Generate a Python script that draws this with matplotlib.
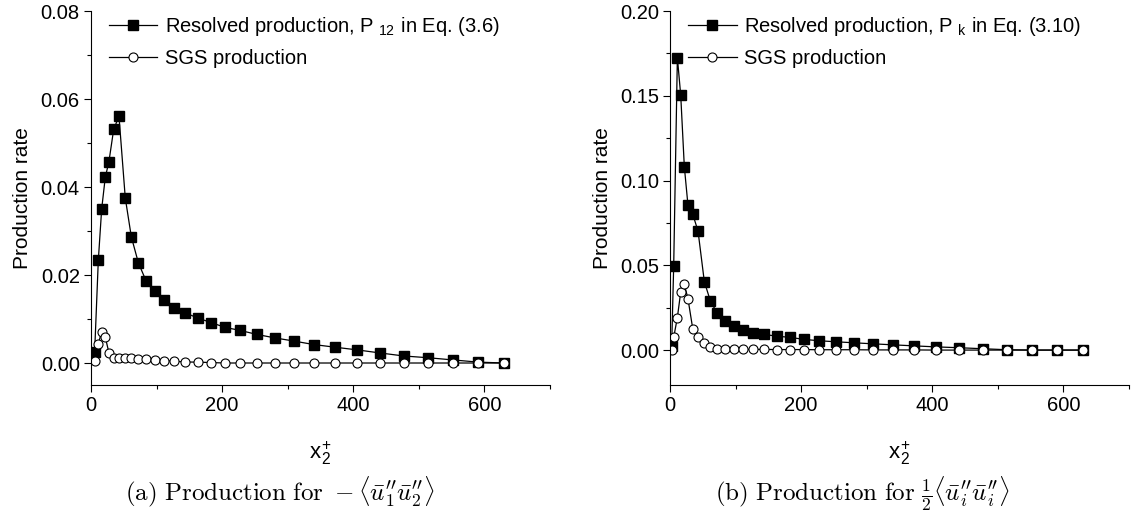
import matplotlib
matplotlib.use('Agg')
import matplotlib.pyplot as plt
from matplotlib.ticker import MultipleLocator, FormatStrFormatter

plt.rcParams['font.family'] = ['Liberation Sans', 'DejaVu Sans']
plt.rcParams['mathtext.fontset'] = 'cm'

# (a) production for -<u1'' u2''>
x_a = [5.6, 11.2, 16.3, 21.8, 27.4, 34.6, 42.7, 52.3, 61.5, 72.2, 83.9, 97.1,
       111.3, 127, 143.8, 163.2, 183, 204.4, 227.7, 252.7, 280.6, 309, 339.6,
       371.6, 405, 440, 476.8, 514, 552, 590.7, 630]
res_a = [0.0026, 0.0234, 0.0350, 0.0422, 0.0458, 0.0531, 0.0561, 0.0375, 0.0287,
         0.0228, 0.0187, 0.0164, 0.0144, 0.0126, 0.0114, 0.0102, 0.0092, 0.0081,
         0.0074, 0.0065, 0.0057, 0.0050, 0.0042, 0.0036, 0.0030, 0.0023, 0.0016,
         0.0012, 0.0007, 0.0002, 0.0]
sgs_a = [0.0005, 0.0044, 0.0071, 0.0059, 0.0023, 0.0011, 0.0011, 0.0011, 0.0011,
         0.0009, 0.00085, 0.0007, 0.00055, 0.0004, 0.00023, 0.0002, 0.0001, 0.0,
         0.0, 0.0, 0.0, 0.0, 0.0, 0.0, 0.0, 0.0, 0.0, 0.0, 0.0, 0.0, 0.0]

# (b) production for 1/2 <ui'' ui''>
x_b = [2.5, 5.6, 11.2, 16.3, 21.8, 27.4, 34.6, 42.7, 52.3, 61.5, 72.2, 83.9, 97.1,
       111.3, 127, 143.8, 163.2, 183, 204.4, 227.7, 252.7, 280.6, 309, 339.6,
       371.6, 405, 440, 476.8, 514, 552, 590.7, 630]
res_b = [0.0024, 0.0498, 0.1725, 0.1504, 0.1082, 0.0853, 0.0802, 0.0702, 0.0404,
         0.0290, 0.0216, 0.0171, 0.0141, 0.0118, 0.0102, 0.0092, 0.0082, 0.0075,
         0.0063, 0.0055, 0.0049, 0.0043, 0.0037, 0.0031, 0.0025, 0.0019, 0.0014,
         0.0008, 0.0002, 0.0, 0.0, 0.0]
sgs_b = [0.0, 0.0075, 0.0192, 0.0343, 0.0388, 0.0302, 0.0127, 0.0076, 0.0039,
         0.0016, 0.0005, 0.0004, 0.0004, 0.0004, 0.0004, 0.0004, 0.0003, 0.0003,
         0.0003, 0.0002, 0.0002, 0.0002, 0.0001, 0.0001, 0.0001, 0.0, 0.0, 0.0,
         0.0, 0.0, 0.0, 0.0]

labels_a = [r'Resolved production, P$_{\mathregular{\ 12}}$ in Eq. (3.6)', 'SGS production']
labels_b = [r'Resolved production, P$_{\mathregular{\ k}}$ in Eq. (3.10)', 'SGS production']
captions = [r'$\mathrm{(a)\ Production\ for\ }-\langle\bar{u}_1^{\prime\prime}\bar{u}_2^{\prime\prime}\rangle$',
            r'$\mathrm{(b)\ Production\ for\ }\frac{1}{2}\langle\bar{u}_i^{\prime\prime}\bar{u}_i^{\prime\prime}\rangle$']

fig = plt.figure(figsize=(11.43, 5.13), dpi=100)
ax_a = fig.add_axes([0.0796, 0.2495, 0.4016, 0.729])
ax_b = fig.add_axes([0.5862, 0.2495, 0.4016, 0.729])


def draw(ax, x, res, sgs, labels, ylim, major, fmt):
    ax.plot(x, res, '-s', color='black', lw=0.9, ms=6.5, mfc='black', mec='black', label=labels[0])
    ax.plot(x, sgs, '-o', color='black', lw=0.9, ms=6.5, mfc='white', mec='black', mew=0.8, label=labels[1])
    ax.set_xlim(0, 700)
    ax.set_ylim(*ylim)
    ax.spines['top'].set_visible(False)
    ax.spines['right'].set_visible(False)
    ax.xaxis.set_major_locator(MultipleLocator(200))
    ax.xaxis.set_minor_locator(MultipleLocator(100))
    ax.yaxis.set_major_locator(MultipleLocator(major))
    ax.yaxis.set_minor_locator(MultipleLocator(major / 2))
    ax.yaxis.set_major_formatter(FormatStrFormatter(fmt))
    ax.tick_params(which='major', direction='out', length=5, width=0.8, labelsize=14.5, pad=3)
    ax.tick_params(which='minor', direction='out', length=3, width=0.8)
    ax.set_xlabel(r'x$_{\mathregular{2}}^{\mathregular{+}}$', fontsize=16, labelpad=18)
    ax.set_ylabel('Production rate', fontsize=15, labelpad=6)
    ax.legend(loc='upper left', bbox_to_anchor=(0.022, 1.01), frameon=False, fontsize=14.5,
              handlelength=2.4, handletextpad=0.35, labelspacing=0.55, borderaxespad=0)


draw(ax_a, x_a, res_a, sgs_a, labels_a, (-0.005, 0.08), 0.02, '%.2f')
draw(ax_b, x_b, res_b, sgs_b, labels_b, (-0.0206, 0.20), 0.05, '%.2f')

fig.text(0.245, 0.025, captions[0], ha='center', fontsize=18)
fig.text(0.754, 0.025, captions[1], ha='center', fontsize=18)

fig.savefig('out.png', dpi=100)
